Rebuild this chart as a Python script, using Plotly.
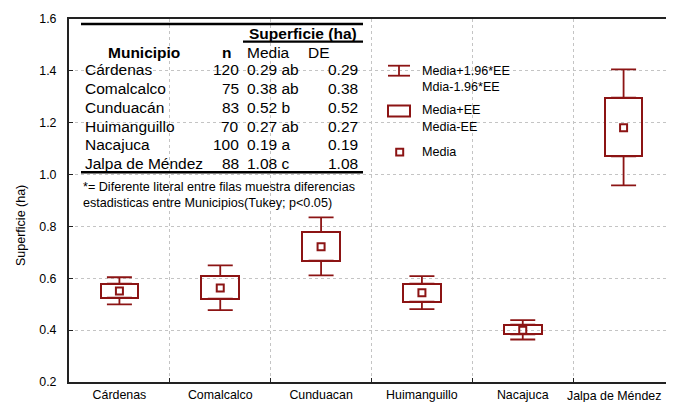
import plotly.graph_objects as go

# ---------------- data ----------------
categories = ["Cárdenas", "Comalcalco", "Cunduacan", "Huimanguillo", "Nacajuca", "Jalpa de Méndez"]
media = [0.551, 0.563, 0.722, 0.544, 0.400, 1.181]
media_menos_ee = [0.525, 0.521, 0.668, 0.510, 0.3835, 1.070]
media_mas_ee = [0.579, 0.608, 0.779, 0.579, 0.421, 1.297]
media_menos_196ee = [0.499, 0.477, 0.611, 0.481, 0.364, 0.958]
media_mas_196ee = [0.604, 0.650, 0.835, 0.608, 0.4385, 1.406]

y_ticks = [0.2, 0.4, 0.6, 0.8, 1.0, 1.2, 1.4, 1.6]

tabla_municipio = ["Cárdenas", "Comalcalco", "Cunduacán", "Huimanguillo", "Nacajuca", "Jalpa de Méndez"]
tabla_n = ["120", "75", "83", "70", "100", "88"]
tabla_media = ["0.29 ab", "0.38 ab", "0.52 b", "0.27 ab", "0.19 a", "1.08 c"]
tabla_de = ["0.29", "0.38", "0.52", "0.27", "0.19", "1.08"]
nota = ["*= Diferente literal entre filas muestra diferencias",
        "estadisticas entre Municipios(Tukey; p<0.05)"]
leyenda = [("Media+1.96*EE", "Mdia-1.96*EE"), ("Media+EE", "Media-EE"), ("Media",)]

# ---------------- style ----------------
RED = "#8c1414"
FONT = "Liberation Sans, Arial, sans-serif"
OFF = 8                      # page body margin of the html page
WIN_W, WIN_H = 674, 402
W, H = WIN_W - OFF, WIN_H - OFF
# plot area in window pixels
L, R, T, B = 69, 674, 19, 382


def px(x):
    return (x - L) / (R - L)


def py(y):
    return (B - y) / (B - T)


fig = go.Figure()

# boxes: Media-EE .. Media+EE
fig.add_trace(go.Bar(
    x=categories,
    base=media_menos_ee,
    y=[hi - lo for hi, lo in zip(media_mas_ee, media_menos_ee)],
    width=0.375,
    marker=dict(color="rgba(0,0,0,0)", line=dict(color=RED, width=2)),
    hoverinfo="skip",
    showlegend=False,
))

# upper whiskers: Media+EE .. Media+1.96*EE
fig.add_trace(go.Scatter(
    x=categories,
    y=media_mas_ee,
    mode="markers",
    marker=dict(size=1, color="rgba(0,0,0,0)"),
    error_y=dict(type="data", symmetric=False,
                 array=[w - b for w, b in zip(media_mas_196ee, media_mas_ee)],
                 arrayminus=[0] * len(categories),
                 width=12.5, thickness=1.8, color=RED),
    hoverinfo="skip",
    showlegend=False,
))

# lower whiskers: Media-1.96*EE .. Media-EE
fig.add_trace(go.Scatter(
    x=categories,
    y=media_menos_ee,
    mode="markers",
    marker=dict(size=1, color="rgba(0,0,0,0)"),
    error_y=dict(type="data", symmetric=False,
                 array=[0] * len(categories),
                 arrayminus=[b - w for w, b in zip(media_menos_196ee, media_menos_ee)],
                 width=12.5, thickness=1.8, color=RED),
    hoverinfo="skip",
    showlegend=False,
))

# mean
fig.add_trace(go.Scatter(
    x=categories,
    y=media,
    mode="markers",
    marker=dict(symbol="square-open", size=7, color=RED, line=dict(color=RED, width=2)),
    hoverinfo="skip",
    showlegend=False,
))

annotations = []
shapes = []


def text(x, y, s, size=12.5, anchor="left", bold=False):
    annotations.append(dict(
        x=px(x), y=py(y), xref="paper", yref="paper",
        text=f"<b>{s}</b>" if bold else s,
        showarrow=False, xanchor=anchor, yanchor="middle",
        font=dict(family=FONT, size=size, color="black"),
    ))


def hline(x0, x1, y, width=2.5, color="black"):
    shapes.append(dict(type="line", xref="paper", yref="paper",
                       x0=px(x0), x1=px(x1), y0=py(y), y1=py(y),
                       line=dict(color=color, width=width)))


# table
hline(81, 363, 24, 2.6)
text(303, 33.5, "Superficie (ha)", 15.5, "center", True)
hline(243, 363, 41.7, 2.2)
text(144, 52.5, "Municipio", 15.5, "center", True)
text(226, 52.5, "n", 15.5, "center", True)
text(245, 52.5, "Media", 15.5, "left")
text(306, 52.5, "DE", 15.5, "left")
row_y = [70, 89, 107.7, 126.5, 144.8, 163.5]
for i in range(len(tabla_municipio)):
    text(83, row_y[i], tabla_municipio[i], 15.5, "left")
    text(240.5, row_y[i], tabla_n[i], 15.5, "right")
    text(245, row_y[i], tabla_media[i], 15.5, "left")
    text(359.5, row_y[i], tabla_de[i], 15.5, "right")
hline(81, 363, 172.3, 2.6)
text(81, 186.7, nota[0], 12.6, "left")
text(81, 203.3, nota[1], 12.6, "left")

# legend keys
hline(388, 410, 65.7, 1.8, RED)
hline(388, 410, 75.7, 1.8, RED)
shapes.append(dict(type="line", xref="paper", yref="paper", x0=px(399), x1=px(399),
                   y0=py(65.7), y1=py(75.7), line=dict(color=RED, width=1.8)))
shapes.append(dict(type="rect", xref="paper", yref="paper", x0=px(388), x1=px(410),
                   y0=py(105.5), y1=py(116.5), line=dict(color=RED, width=2)))
shapes.append(dict(type="rect", xref="paper", yref="paper", x0=px(396.2), x1=px(403.2),
                   y0=py(148.8), y1=py(155.6), line=dict(color=RED, width=2)))
text(420, 70.5, leyenda[0][0], 12.6)
text(420, 87.5, leyenda[0][1], 12.6)
text(420, 109.5, leyenda[1][0], 12.6)
text(420, 127, leyenda[1][1], 12.6)
text(420, 151.5, leyenda[2][0], 12.6)

# y title
annotations.append(dict(
    x=px(21), y=py(226), xref="paper", yref="paper", text="Superficie (ha)",
    textangle=-90, showarrow=False, xanchor="center", yanchor="middle",
    font=dict(family=FONT, size=12.5, color="black"),
))

# last category label, nudged left so it stays inside the picture
annotations.append(dict(
    x=categories[-1], xref="x", y=py(395.5), yref="paper", text=categories[-1],
    xshift=-10, showarrow=False, xanchor="center", yanchor="middle",
    font=dict(family=FONT, size=12.4, color="black"),
))

fig.update_layout(
    width=W, height=H,
    margin=dict(l=L - OFF, r=WIN_W - R, t=T - OFF, b=WIN_H - B, pad=0, autoexpand=False),
    paper_bgcolor="white", plot_bgcolor="white",
    font=dict(family=FONT, size=12.4, color="black"),
    annotations=annotations,
    shapes=shapes,
    showlegend=False,
    bargap=0,
)

fig.update_xaxes(
    type="category", categoryorder="array", categoryarray=categories,
    range=[-0.5, 5.5], tickson="boundaries", tickangle=0, automargin=False,
    labelalias={categories[-1]: " "},
    showgrid=True, gridcolor="#c4c4c4", griddash="dot", gridwidth=1,
    showline=True, linecolor="#222222", linewidth=2, mirror=True,
    ticks="inside", ticklen=4, tickcolor="#222222",
    tickfont=dict(family=FONT, size=12.4, color="black"),
    zeroline=False,
)
fig.update_yaxes(
    range=[0.2, 1.6], tickvals=y_ticks, tickformat=".1f", automargin=False,
    showgrid=True, gridcolor="#c4c4c4", griddash="dot", gridwidth=1,
    showline=True, linecolor="#222222", linewidth=2,
    ticks="inside", ticklen=4, tickcolor="#222222",
    tickfont=dict(family=FONT, size=12.4, color="black"),
    ticklabelstandoff=8,
    zeroline=False,
)

fig.write_html("out.html")
